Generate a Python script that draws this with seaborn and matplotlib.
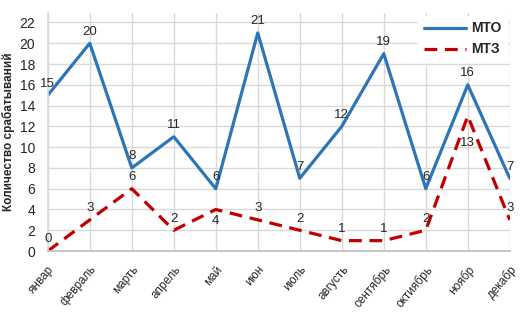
import numpy as np
import pandas as pd
import matplotlib
matplotlib.use("Agg")
import matplotlib.pyplot as plt
import seaborn as sns

months = ["январ", "февраль", "марть", "апрель", "май", "июн",
          "июль", "августь", "сентябрь", "октиябрь", "ноябр", "декабр"]
mto = [15, 20, 8, 11, 6, 21, 7, 12, 19, 6, 16, 7]
mtz = [0, 3, 6, 2, 4, 3, 2, 1, 1, 2, 13, 3]
# label offset for MTZ in points: positive above, negative below
mtz_off = [4, 4, 4, 4, -4, 4, 4, 4, 4, 4, -15, 4]

sns.set_theme(style="whitegrid")
plt.rcParams["font.family"] = ["Liberation Sans", "DejaVu Sans"]

pos = np.arange(len(months))
df = pd.DataFrame({"pos": pos, "МТО": mto, "МТЗ": mtz})

fig, ax = plt.subplots(figsize=(5.25, 3.13), dpi=100)
fig.subplots_adjust(left=0.091, right=0.971, bottom=0.198, top=0.958)

sns.lineplot(data=df, x="pos", y="МТО", ax=ax, color="#2E75B6",
             linewidth=2.3, label="МТО")
sns.lineplot(data=df, x="pos", y="МТЗ", ax=ax, color="#C00000",
             linewidth=2.3, linestyle=(0, (4, 2.4)), label="МТЗ")

for x, v in zip(pos, mto):
    ax.annotate(str(v), (x, v), xytext=(0, 4), textcoords="offset points",
                ha="center", va="bottom", fontsize=9.5, color="#262626")
for x, v, o in zip(pos, mtz, mtz_off):
    ax.annotate(str(v), (x, v), xytext=(0, o), textcoords="offset points",
                ha="center", va="bottom" if o > 0 else "top",
                fontsize=9.5, color="#262626")

ax.set_xlim(0, len(months) - 1)
ax.set_ylim(0, 22.9)
ax.set_yticks(range(0, 23, 2))
ax.set_xticks(pos)
ax.set_xticklabels(months, rotation=50, ha="right", rotation_mode="anchor",
                   fontsize=8.5)
ax.tick_params(axis="y", labelsize=10, pad=3)
ax.tick_params(axis="x", pad=3)
ax.set_xlabel("")
ax.set_ylabel("Количество срабатываний", fontsize=8.5, fontweight="bold",
              labelpad=3)

ax.grid(True, color="#D9D9D9", linewidth=1)
for side in ["top", "right"]:
    ax.spines[side].set_visible(False)
ax.spines["left"].set_color("#D9D9D9")
ax.spines["bottom"].set_color("#BFBFBF")

leg = ax.legend(loc="upper right", frameon=True, facecolor="white",
                edgecolor="white", framealpha=1,
                prop={"weight": "bold", "size": 10},
                handlelength=3.0, handletextpad=0.4, borderaxespad=0.2)

fig.savefig("out.png", dpi=100)
